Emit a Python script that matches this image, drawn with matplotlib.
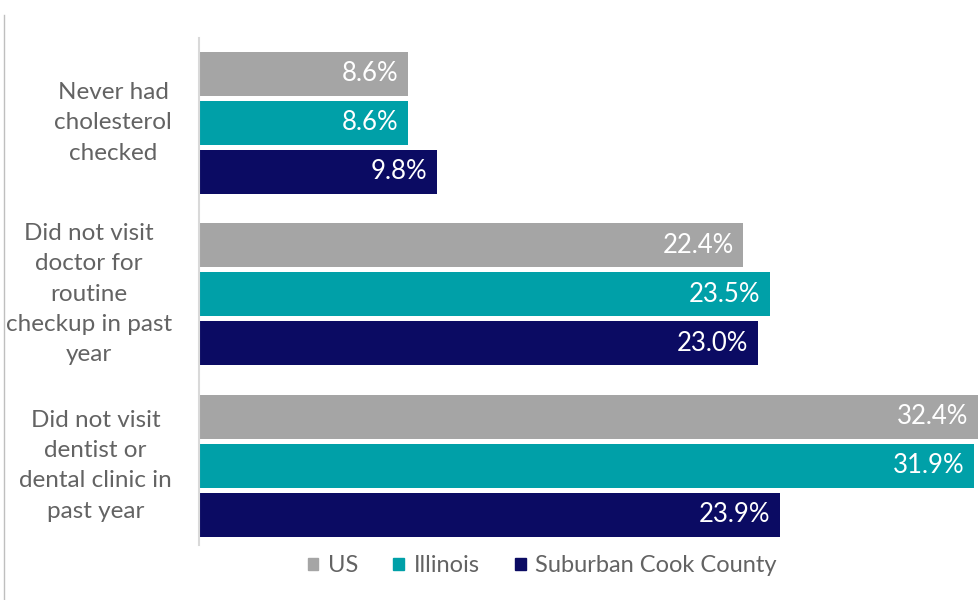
import numpy as np
import matplotlib
matplotlib.use('Agg')
import matplotlib.pyplot as plt
from matplotlib.lines import Line2D
from matplotlib.patches import Patch
from matplotlib.transforms import blended_transform_factory

categories = ['Never had\ncholesterol\nchecked',
              'Did not visit\ndoctor for\nroutine\ncheckup in past\nyear',
              'Did not visit\ndentist or\ndental clinic in\npast year']
series_names = ['US', 'Illinois', 'Suburban Cook County']
us_vals = [8.6, 22.4, 32.4]
il_vals = [8.6, 23.5, 31.9]
scc_vals = [9.8, 23.0, 23.9]

colors = ['#A5A5A5', '#00A0A8', '#0B0B63']
text_gray = '#636363'
plt.rcParams['font.family'] = ['Lato', 'DejaVu Sans']

W, H = 979, 600
fig = plt.figure(figsize=(W / 100, H / 100), dpi=100)
# plot area in pixels: left edge of value axis at x=199, spans y=38..545
ax = fig.add_axes([199 / W, (H - 545) / H, 780 / W, 507 / H])

group_gap = 3.5
bar_h = 0.9
centers = np.arange(len(categories)) * group_gap
for k, vals in enumerate([us_vals, il_vals, scc_vals]):
    ys = centers + (k - 1)
    ax.barh(ys, vals, height=bar_h, color=colors[k], label=series_names[k])

xmax = 780 / 24.3
ax.set_xlim(0, xmax)
ax.set_ylim(8.62, -1.73)

# value labels inside the bar ends
for k, vals in enumerate([us_vals, il_vals, scc_vals]):
    for c, v in zip(centers, vals):
        xe = min(v, xmax - 0.05)
        ax.text(xe - 0.4, c + (k - 1), f'{v:.1f}%', ha='right', va='center',
                color='white', fontsize=18.5)

for s in ['top', 'right', 'bottom']:
    ax.spines[s].set_visible(False)
ax.spines['left'].set_color('#D9D9D9')
ax.spines['left'].set_linewidth(1.5)
ax.set_xticks([])
ax.set_yticks([])

tr = blended_transform_factory(fig.transFigure, ax.transData)
for c, lab in zip(centers, categories):
    ax.text(172 / W, c, lab, transform=tr, ha='right', va='center',
            multialignment='center', color=text_gray, fontsize=17.5,
            linespacing=1.55)

handles = [Patch(color=colors[k], label=series_names[k]) for k in range(3)]
fig.legend(handles=handles, loc='center', bbox_to_anchor=(542 / W, 34 / H),
           ncol=3, frameon=False, fontsize=17, handlelength=0.45,
           handleheight=0.45, handletextpad=0.4, columnspacing=1.5,
           labelcolor=text_gray)

# outer frame edge on the left
fig.add_artist(Line2D([4 / W, 4 / W], [0, (H - 15) / H],
                      transform=fig.transFigure, color='#BFBFBF', lw=1))

fig.savefig('out.png', dpi=100)
